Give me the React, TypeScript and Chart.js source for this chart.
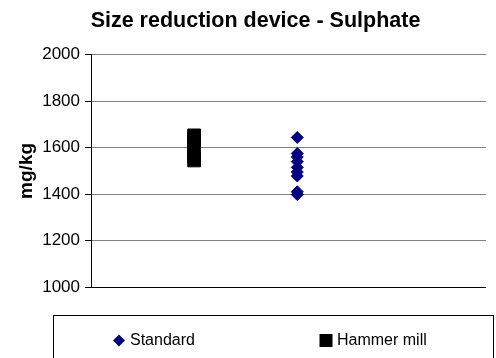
import React, { useEffect, useRef } from 'react';
import { Chart, registerables } from 'chart.js';

Chart.register(...registerables);

const titleText = 'Size reduction device - Sulphate';
const yAxisTitle = 'mg/kg';
const seriesNames = ['Standard', 'Hammer mill'];
const seriesX = [2, 1];
const standardValues = [1644, 1575, 1560, 1540, 1515, 1495, 1478, 1410, 1398];
const hammerMillValues = [1545, 1562, 1580, 1596, 1610, 1628, 1641, 1653];
const yMin = 1000;
const yMax = 2000;
const yStep = 200;
const xMin = 0;
const xMax = 3.83;
const seriesColors = ['#000080', '#000000'];
const seriesStyles = ['rectRot', 'rect'];

const FONT = "Arial, 'Liberation Sans', sans-serif";

const boxLegend = {
  id: 'boxLegend',
  afterDraw(chart: any) {
    const ctx = chart.ctx;
    const ca = chart.chartArea;
    const top = Math.round(ca.bottom + 28) + 0.5;
    const left = 53.5;
    const right = chart.width - 2.5;
    ctx.save();
    ctx.strokeStyle = '#000';
    ctx.lineWidth = 1;
    ctx.strokeRect(left, top, right - left, chart.height - top + 10);
    const cy = top + 25;
    const itemX = [119, 326];
    ctx.font = `16px ${FONT}`;
    ctx.textBaseline = 'middle';
    ctx.textAlign = 'left';
    chart.data.datasets.forEach((ds: any, i: number) => {
      const x = itemX[i];
      ctx.fillStyle = ds.backgroundColor;
      ctx.beginPath();
      if (ds.pointStyle === 'rectRot') {
        const r = 6;
        ctx.moveTo(x, cy - r);
        ctx.lineTo(x + r, cy);
        ctx.lineTo(x, cy + r);
        ctx.lineTo(x - r, cy);
        ctx.closePath();
      } else {
        ctx.rect(x - 6.5, cy - 6.5, 13, 13);
      }
      ctx.fill();
      ctx.fillStyle = '#000';
      ctx.fillText(ds.label, x + 11, cy);
    });
    ctx.restore();
  },
};

export default function App() {
  const ref = useRef<HTMLCanvasElement | null>(null);

  useEffect(() => {
    if (!ref.current) return;
    const seriesValues = [standardValues, hammerMillValues];
    const chart = new Chart(ref.current, {
      type: 'scatter',
      data: {
        datasets: seriesNames.map((name, i) => ({
          label: name,
          data: seriesValues[i].map((v) => ({ x: seriesX[i], y: v })),
          pointStyle: seriesStyles[i] as any,
          pointRadius: i === 0 ? 6 : 9,
          borderWidth: 1,
          backgroundColor: seriesColors[i],
          borderColor: seriesColors[i],
        })),
      },
      options: {
        responsive: false,
        animation: false,
        events: [],
        layout: { padding: { left: 15, right: 0, top: 0, bottom: 71 } },
        plugins: {
          legend: { display: false },
          tooltip: { enabled: false },
          title: {
            display: true,
            text: titleText,
            color: '#000',
            font: { family: FONT, size: 21.5, weight: 'bold' },
            padding: { top: 8, bottom: 21 },
          },
        },
        scales: {
          x: { type: 'linear', min: xMin, max: xMax, display: false },
          y: {
            type: 'linear',
            min: yMin,
            max: yMax,
            afterFit: (scale: any) => {
              scale.width = 76;
            },
            ticks: {
              stepSize: yStep,
              color: '#000',
              padding: 5,
              font: { family: FONT, size: 17 },
              callback: (v: any) => String(v),
            },
            grid: {
              color: (c: any) => (c.tick && c.tick.value === yMin ? '#000' : '#808080'),
              lineWidth: 1,
              tickLength: 6,
              tickColor: '#000',
            },
            border: { color: '#000', width: 1 },
            title: {
              display: true,
              text: yAxisTitle,
              color: '#000',
              font: { family: FONT, size: 19, weight: 'bold' },
              padding: { top: 0, bottom: 0 },
            },
          },
        },
      },
      plugins: [boxLegend],
    });
    return () => chart.destroy();
  }, []);

  return (
    <div style={{ position: 'fixed', left: 0, top: 0, width: 496, height: 358, background: '#fff' }}>
      <canvas ref={ref} width={496} height={358} />
    </div>
  );
}
